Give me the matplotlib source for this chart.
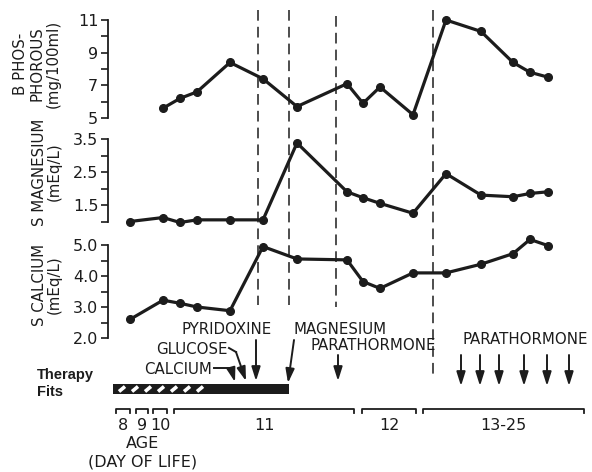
import matplotlib
matplotlib.use("Agg")
import matplotlib.pyplot as plt
import numpy as np

# sampling times on the (stretched) age axis, timeline units
t = [22, 55, 72, 89, 122, 155, 189, 239, 255, 272, 305, 338, 373, 405, 422, 440]
# blood phosphorus has no first sample
phosphorus = [5.6, 6.2, 6.6, 8.4, 7.4, 5.7, 7.1, 5.9, 6.9, 5.2, 11.0, 10.3, 8.4, 7.8, 7.5]
magnesium = [1.0, 1.12, 0.97, 1.05, 1.05, 1.05, 3.38, 1.9, 1.72, 1.55, 1.25, 2.45, 1.8, 1.75, 1.85, 1.9]
calcium = [2.6, 3.22, 3.12, 3.0, 2.88, 4.95, 4.55, 4.52, 3.82, 3.6, 4.1, 4.1, 4.38, 4.72, 5.18, 4.98]

# treatment events (dashed lines)
event_t = [150, 181, 228, 325]
event_bottom = [305, 305, 307, 377]
event_top = [10, 10, 16, 10]

# age brackets along the bottom
age_labels = ["8", "9", "10", "11", "12", "13-25"]
age_start = [8, 28, 45, 66, 254, 315]
age_end = [22, 40, 59, 246, 308, 476]

# parathormone doses days 13-25
pth_t = [353, 372, 391, 416, 439, 461]

W, H = 592, 472
INK = "#1c1c1c"
plt.rcParams["font.family"] = "DejaVu Sans"

fig = plt.figure(figsize=(W / 100, H / 100), dpi=100)
fig.patch.set_facecolor("white")

left = 108 / W
width = 484 / W


def panel(top_px, bottom_px):
    ax = fig.add_axes([left, 1 - bottom_px / H, width, (bottom_px - top_px) / H])
    ax.patch.set_visible(False)
    for s in ["top", "right", "bottom"]:
        ax.spines[s].set_visible(False)
    ax.spines["left"].set_linewidth(1.3)
    ax.spines["left"].set_color(INK)
    ax.set_xlim(0, 484)
    ax.set_xticks([])
    ax.tick_params(axis="y", direction="out", length=5, width=1.2, colors=INK,
                   labelsize=11.5, pad=2)
    return ax


line_kw = dict(color=INK, lw=2.3, marker="o", ms=5.5, clip_on=False)

ax_p = panel(20, 118)
ax_p.plot(t[1:], phosphorus, **line_kw)
ax_p.set_ylim(5, 11)
ax_p.set_yticks(range(5, 12))
ax_p.set_yticklabels([str(v) if v % 2 else "" for v in range(5, 12)])

ax_m = panel(139, 221.5)
ax_m.plot(t, magnesium, **line_kw)
ax_m.set_ylim(1.0, 3.5)
ax_m.set_yticks(np.arange(1.0, 3.51, 0.5))
ax_m.set_yticklabels(["", "1.5", "", "2.5", "", "3.5"])

ax_c = panel(245, 338)
ax_c.plot(t, calcium, **line_kw)
ax_c.set_ylim(2.0, 5.0)
ax_c.set_yticks(np.arange(2.0, 5.01, 0.5))
ax_c.set_yticklabels(["2.0", "", "3.0", "", "4.0", "", "5.0"])

# y titles, rotated
fig.text(37 / W, 1 - 64 / H, "B PHOS-\nPHOROUS\n(mg/100ml)", rotation=90,
         ha="center", va="center", fontsize=10.8, color=INK, linespacing=1.1,
         multialignment="center")
fig.text(47 / W, 1 - 172 / H, "S MAGNESIUM\n(mEq/L)", rotation=90,
         ha="center", va="center", fontsize=10.8, color=INK, linespacing=0.95,
         multialignment="center")
fig.text(47 / W, 1 - 285 / H, "S CALCIUM\n(mEq/L)", rotation=90,
         ha="center", va="center", fontsize=10.8, color=INK, linespacing=0.95,
         multialignment="center")

# overlay for events, therapy and age scale (x in timeline units, y downwards)
ann = fig.add_axes([left, 0, width, 1])
ann.set_xlim(0, 484)
ann.set_ylim(H, 0)
ann.set_axis_off()

ann.vlines(event_t, event_top, event_bottom, colors=INK, lw=1.1,
           linestyles=(0, (7, 4)))

fs = 10.8
ann.text(119, 330, "PYRIDOXINE", ha="center", va="center", fontsize=fs, color=INK)
ann.text(120, 350, "GLUCOSE", ha="right", va="center", fontsize=fs, color=INK)
ann.text(104, 369, "CALCIUM", ha="right", va="center", fontsize=fs, color=INK)
ann.text(232, 329, "MAGNESIUM", ha="center", va="center", fontsize=fs, color=INK)
ann.text(265, 346, "PARATHORMONE", ha="center", va="center", fontsize=fs, color=INK)
ann.text(417, 339, "PARATHORMONE", ha="center", va="center", fontsize=fs, color=INK)

arrow = dict(arrowstyle="-|>,head_length=0.7,head_width=0.22", color=INK, lw=1.4,
             shrinkA=0, shrinkB=0, mutation_scale=12)


def pointer(x0, y0, x1, y1):
    ann.annotate("", xy=(x1, y1), xytext=(x0, y0), arrowprops=arrow)


# calcium and glucose leader lines
ann.plot([106, 123], [368, 368], color=INK, lw=1.4)
pointer(123, 368, 127, 382)
ann.plot([121, 128], [348, 352], color=INK, lw=1.4)
pointer(128, 352, 138, 381)
pointer(148, 340, 148, 381)
pointer(186, 340, 180, 383)
pointer(230, 355, 230, 381)
for x in pth_t:
    pointer(x, 355, x, 386)

# therapy bar, hatched while only partial
ann.add_patch(plt.Rectangle((5, 384), 176, 10, color=INK, lw=0))
for x in np.arange(11, 100, 13):
    ann.plot([x, x + 6], [391.5, 386.5], color="white", lw=2.6,
             solid_capstyle="butt")
ann.text(-71, 375, "Therapy", ha="left", va="center", fontsize=10.5,
         family="Liberation Sans", weight="bold", color=INK)
ann.text(-71, 392, "Fits", ha="left", va="center", fontsize=10.5,
         family="Liberation Sans", weight="bold", color=INK)

# age brackets
for lab, a, b in zip(age_labels, age_start, age_end):
    ann.plot([a, a, b, b], [413, 409, 409, 413], color=INK, lw=1.3)
    ann.text((a + b) / 2, 426, lab, ha="center", va="center", fontsize=11.5,
             color=INK)
ann.text(35, 444, "AGE", ha="center", va="center", fontsize=11.5, color=INK)
ann.text(35, 462, "(DAY OF LIFE)", ha="center", va="center", fontsize=11.5,
         color=INK)

fig.savefig("out.png", dpi=100, facecolor="white")
